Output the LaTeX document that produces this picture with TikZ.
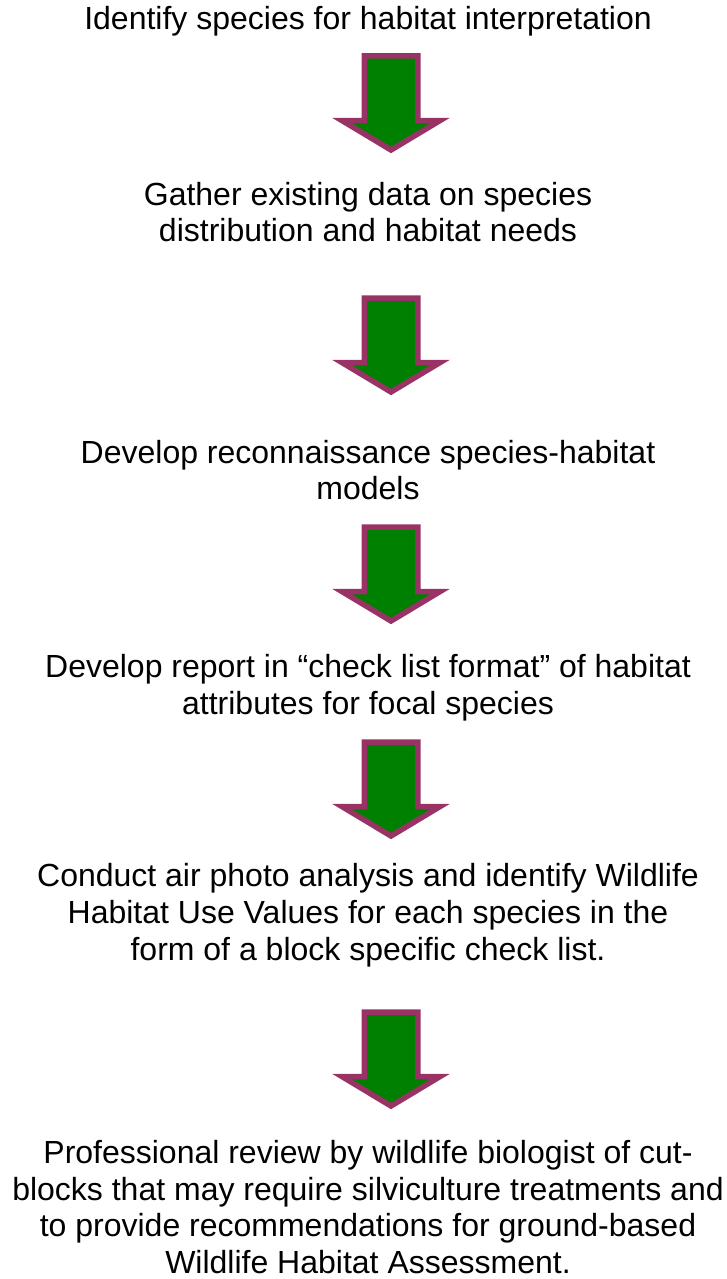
\documentclass[tikz,border=0pt]{standalone}
\usepackage{fontspec}
\setmainfont{Liberation Sans}
\usetikzlibrary{shapes.arrows}
\definecolor{plum}{HTML}{993366}
\definecolor{leaf}{HTML}{008000}
\begin{document}
\begin{tikzpicture}[x=1pt,y=-1pt,inner sep=0pt,outer sep=0pt,
stage/.style={align=center,font=\fontsize{32}{36.8}\selectfont},
flowarrow/.style={single arrow,draw=plum,fill=leaf,line width=5.5pt,rotate=-90,anchor=tail,
inner xsep=0pt,inner ysep=24pt,minimum width=92pt,minimum height=94pt,
single arrow head extend=22pt,single arrow tip angle=118}]
\useasboundingbox (0,0) rectangle (727,1279);
\draw (368,21) node[stage] (S1) {Identify species for habitat interpretation};
\draw (368,212) node[stage] (S2) {Gather existing data on species\\distribution and habitat needs};
\draw (368,470) node[stage] (S3) {Develop reconnaissance species-habitat\\models};
\draw (368,688) node[stage] (S4) {Develop report in “check list format” of habitat\\attributes for focal species};
\draw (368,915) node[stage] (S5) {Conduct air photo analysis and identify Wildlife\\Habitat Use Values for each species in the\\form of a block specific check list.};
\draw (368,1207) node[stage] (S6) {Professional review by wildlife biologist of cut-\\blocks that may require silviculture treatments and\\to provide recommendations for ground-based\\Wildlife Habitat Assessment.};

% arrows between the steps
\draw (391,56) node[flowarrow] (A1) {};
\draw (391,298) node[flowarrow] (A2) {};
\draw (391,527) node[flowarrow] (A3) {};
\draw (391,742) node[flowarrow] (A4) {};
\draw (391,1012) node[flowarrow] (A5) {};
\end{tikzpicture}
\end{document}
